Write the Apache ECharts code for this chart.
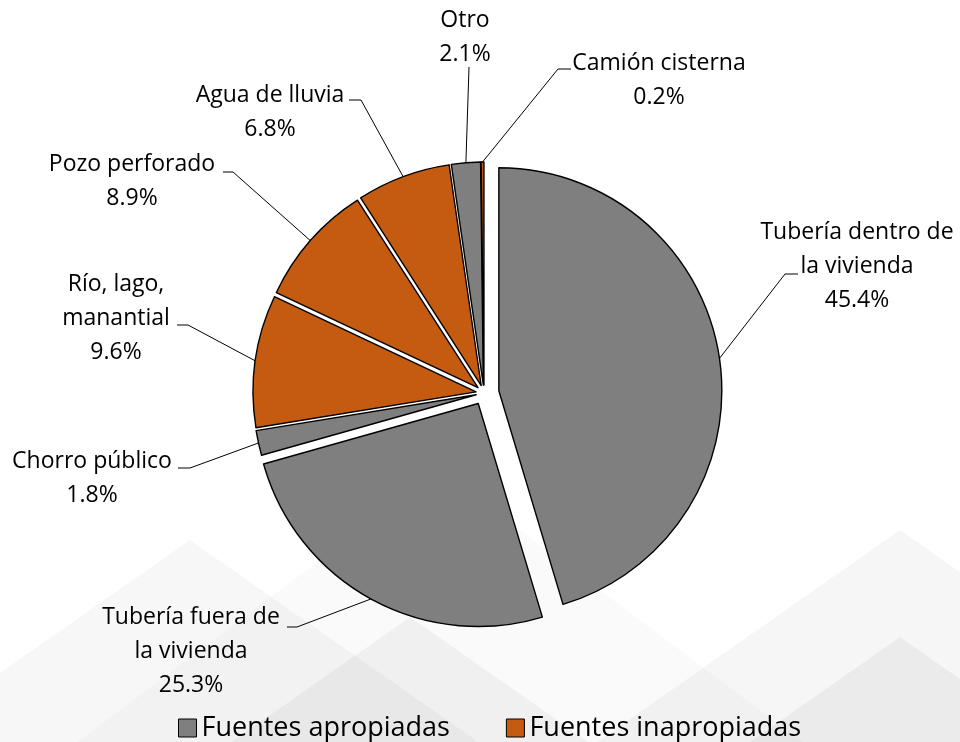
<!DOCTYPE html>
<html>
<head>
<meta charset="utf-8">
<script src="https://cdn.jsdelivr.net/npm/echarts@6/dist/echarts.min.js"></script>
<style>
  html, body { margin: 0; padding: 0; background: #fff; }
  #main { width: 960px; height: 742px; }
</style>
</head>
<body>
<div id="main"></div>
<script>
// data, clockwise from 12 o'clock
var names = ['Tubería dentro de\nla vivienda', 'Tubería fuera de\nla vivienda', 'Chorro público',
             'Río, lago,\nmanantial', 'Pozo perforado', 'Agua de lluvia', 'Otro', 'Camión cisterna'];
var values = [45.4, 25.3, 1.8, 9.6, 8.9, 6.8, 2.1, 0.2];
var groups = [0, 0, 0, 1, 1, 1, 0, 1];   // 0 = apropiada, 1 = inapropiada
var groupNames = ['Fuentes apropiadas', 'Fuentes inapropiadas'];
var groupColors = ['#7f7f7f', '#c55a11'];

// how far each slice is pulled out (px)
var explode = [15, 12, 8, 8, 8, 8, 8, 8];

// label centres and leader line bend / end points
var labelAt = [[857, 266], [191, 651], [92, 478], [116, 318], [132, 181], [270, 112], [465, 37], [659, 80]];
var lineBend = [[785, 274], [297, 627], [190, 468], [188, 325], [233, 172], [361, 100], [469, 67], [558, 69]];
var lineEnd = [[798, 274], [287, 627], [178, 468], [177, 325], [223, 172], [349, 100], [469, 67], [571, 69]];

var CX = 484, CY = 393, R = 223;
var FONT = '"Open Sans", "Noto Sans", sans-serif';

var myChart = echarts.init(document.getElementById('main'));

var total = values.reduce(function (a, b) { return a + b; }, 0);

// one pie per slice (same data so angles line up), centre pushed out along the slice bisector
var series = [];
var cum = 0;
values.forEach(function (v, k) {
    var mid = (cum + v / 2) / total * Math.PI * 2;
    cum += v;
    var c = [CX + explode[k] * Math.sin(mid), CY - explode[k] * Math.cos(mid)];
    var data = values.map(function (val, i) {
        var item = { name: names[i], value: val };
        if (i === k) {
            item.itemStyle = { color: groupColors[groups[i]] };
        } else {
            item.itemStyle = { color: 'rgba(0,0,0,0)', borderWidth: 0 };
            item.label = { show: false };
            item.labelLine = { show: false };
        }
        return item;
    });
    series.push({
        type: 'pie',
        center: c,
        radius: R,
        startAngle: 90,
        clockwise: true,
        avoidLabelOverlap: false,
        animation: false,
        silent: true,
        emphasis: { scale: false },
        itemStyle: { borderColor: '#000', borderWidth: 1.4 },
        label: {
            show: true,
            position: 'outside',
            color: '#000',
            fontFamily: FONT,
            fontSize: 23,
            lineHeight: 34,
            formatter: function (p) {
                return p.name + '\n' + p.value.toFixed(1) + '%';
            }
        },
        labelLine: { show: true, length: 10, length2: 10, lineStyle: { color: '#000', width: 1 } },
        labelLayout: function (p) {
            var i = p.dataIndex;
            var out = { x: labelAt[i][0], y: labelAt[i][1], align: 'center', verticalAlign: 'middle' };
            if (p.labelLinePoints) {
                out.labelLinePoints = [p.labelLinePoints[0], lineBend[i], lineEnd[i]];
            }
            return out;
        },
        data: data
    });
});

// dummy series so the legend shows the two groups
groupNames.forEach(function (g, k) {
    series.push({
        type: 'custom',
        name: g,
        coordinateSystem: 'none',
        renderItem: function () { return null; },
        itemStyle: { color: groupColors[k] },
        data: []
    });
});

// faint mountain watermark
function tri(ax, ay, slope, fill) {
    var hw = (742 - ay) / slope;
    return {
        type: 'polygon', silent: true, z: -10,
        shape: { points: [[ax, ay], [ax + hw, 742], [ax - hw, 742]] },
        style: { fill: fill }
    };
}

option = {
    backgroundColor: '#fff',
    graphic: [
        tri(190, 540, 0.7, 'rgba(0,0,0,0.03)'),
        tri(440, 470, 0.75, 'rgba(0,0,0,0.02)'),
        tri(410, 617, 0.7, 'rgba(0,0,0,0.04)'),
        tri(900, 530, 0.7, 'rgba(0,0,0,0.035)'),
        tri(900, 637, 0.7, 'rgba(0,0,0,0.045)')
    ],
    legend: {
        data: groupNames,
        left: 178,
        top: 712,
        padding: 0,
        icon: 'rect',
        itemWidth: 18,
        itemHeight: 18,
        itemGap: 56,
        selectedMode: false,
        itemStyle: { borderColor: '#000', borderWidth: 1 },
        textStyle: { fontFamily: FONT, fontSize: 27, color: '#000', lineHeight: 32 }
    },
    series: series
};

myChart.setOption(option);
</script>
</body>
</html>
